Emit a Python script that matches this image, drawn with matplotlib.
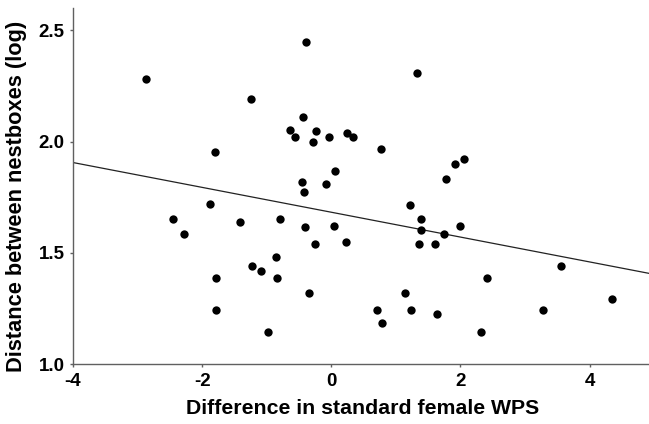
import matplotlib
matplotlib.use("Agg")
import matplotlib.pyplot as plt
import numpy as np

plt.rcParams['font.family'] = ['Liberation Sans', 'DejaVu Sans']

# Data
wps_diff = [-2.875, -1.796, -1.249, -0.393, -0.434, -0.635, -0.563, -0.243, -0.289,
            -0.037, 0.241, 0.341, 0.062, -0.455, -0.083, -0.429,
            1.331, 0.768, 2.048, 1.919, 1.774,
            -1.873, -2.452, -2.276, -1.420, -0.795, -0.403, 0.046, 0.221, -0.254,
            -0.852, -1.229, -1.084, -1.781, -0.842, -0.341, -1.781, -0.981,
            1.217, 1.387, 1.387, 1.743, 1.986, 1.356, 1.610, 2.415, 3.560, 4.350,
            1.146, 0.701, 1.238, 0.789, 1.630, 2.322, 3.286]
nest_dist = [2.283, 1.953, 2.193, 2.449, 2.111, 2.052, 2.019, 2.048, 2.000,
             2.019, 2.039, 2.019, 1.866, 1.818, 1.809, 1.772,
             2.310, 1.968, 1.920, 1.898, 1.832,
             1.719, 1.653, 1.585, 1.641, 1.653, 1.616, 1.623, 1.551, 1.542,
             1.481, 1.442, 1.421, 1.389, 1.389, 1.322, 1.243, 1.145,
             1.715, 1.653, 1.602, 1.585, 1.622, 1.542, 1.542, 1.388, 1.442, 1.294,
             1.322, 1.243, 1.243, 1.186, 1.225, 1.145, 1.243]

# Regression line
fit_intercept = 1.683
fit_slope = -0.0558

x_ticks = [-4, -2, 0, 2, 4]
y_ticks = [1.0, 1.5, 2.0, 2.5]
x_lim = (-4, 4.92)
y_lim = (1.0, 2.6)

fig = plt.figure(figsize=(6.49, 4.24), dpi=100)
ax = fig.add_axes([0.1125, 0.1408, 0.8875, 0.8402])

ax.scatter(wps_diff, nest_dist, s=36, color='black', zorder=3, linewidths=0)
lx = np.array(x_lim)
ax.plot(lx, fit_intercept + fit_slope * lx, color='#222222', linewidth=0.9, zorder=2)

ax.set_xlim(*x_lim)
ax.set_ylim(*y_lim)
ax.set_xticks(x_ticks)
ax.set_xticklabels([str(t) for t in x_ticks])
ax.set_yticks(y_ticks)
ax.set_yticklabels([f"{t:.1f}" for t in y_ticks])

for s in ['top', 'right']:
    ax.spines[s].set_visible(False)
for s in ['left', 'bottom']:
    ax.spines[s].set_color('#606060')
    ax.spines[s].set_linewidth(1.0)

ax.tick_params(axis='both', direction='out', length=2.5, width=1, color='#606060',
               labelsize=13.5, pad=3.5)
for lab in ax.get_xticklabels() + ax.get_yticklabels():
    lab.set_fontweight('bold')

ax.set_xlabel('Difference in standard female WPS', fontsize=15.3, fontweight='bold')
ax.set_ylabel('Distance between nestboxes (log)', fontsize=15.7, fontweight='bold')
ax.xaxis.set_label_coords(0.502, -0.097)
ax.yaxis.set_label_coords(-0.080, 0.47)

fig.savefig('out.png', dpi=100)
